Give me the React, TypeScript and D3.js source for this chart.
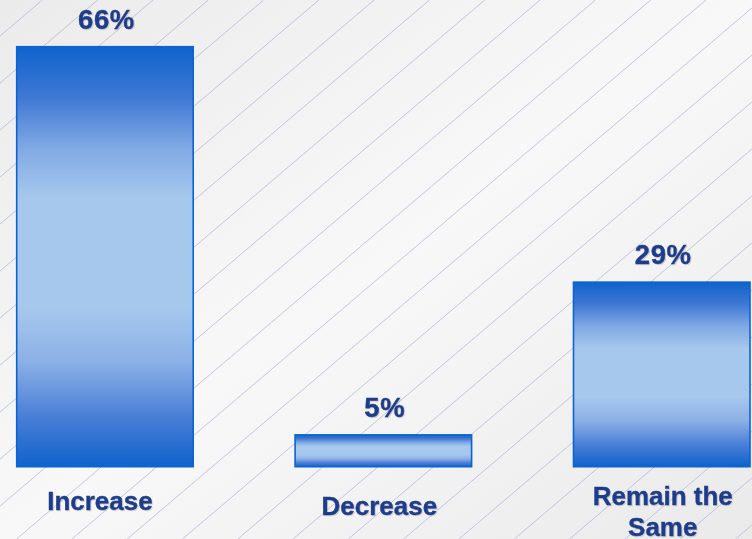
import React, { useEffect, useRef } from 'react';
import * as d3 from 'd3';

const categories = ['Increase', 'Decrease', 'Remain the Same'];
const values = [66, 5, 29];
const valueLabels = ['66%', '5%', '29%'];
// category labels are wrapped and placed by hand in the source slide
const categoryLines = [['Increase'], ['Decrease'], ['Remain the', 'Same']];
const categoryBaselines = [510, 515, 505];
const categoryShift = [-5, -4, 1];

const W = 752;
const H = 539;

const App: React.FC = () => {
  const svgRef = useRef<SVGSVGElement>(null);

  useEffect(() => {
    if (!svgRef.current) return;
    const svg = d3.select(svgRef.current);
    svg.selectAll('*').remove();

    const defs = svg.append('defs');

    const bg = defs.append('linearGradient')
      .attr('id', 'bg').attr('x1', 0).attr('y1', 0).attr('x2', 1).attr('y2', 1);
    bg.append('stop').attr('offset', '0%').attr('stop-color', '#ebebeb');
    bg.append('stop').attr('offset', '50%').attr('stop-color', '#f8f8f8');
    bg.append('stop').attr('offset', '100%').attr('stop-color', '#eaeaea');

    const barGrad = defs.append('linearGradient')
      .attr('id', 'bar').attr('x1', 0).attr('y1', 0).attr('x2', 0).attr('y2', 1);
    [
      ['0%', '#0f63cc'],
      ['12%', '#3f78d4'],
      ['24%', '#80a8e3'],
      ['36%', '#a6c8ed'],
      ['62%', '#a6c8ed'],
      ['75%', '#8cb0e6'],
      ['88%', '#4a7fd6'],
      ['100%', '#0f63cc'],
    ].forEach(([o, c]) => barGrad.append('stop').attr('offset', o).attr('stop-color', c));

    const shadow = defs.append('filter').attr('id', 'shadow')
      .attr('x', '-10%').attr('y', '-10%').attr('width', '120%').attr('height', '130%');
    shadow.append('feDropShadow')
      .attr('dx', 1).attr('dy', 1).attr('stdDeviation', 0.5)
      .attr('flood-color', '#8a8a8a').attr('flood-opacity', 0.35);

    // background
    svg.append('rect').attr('width', W).attr('height', H).attr('fill', 'url(#bg)');

    const slope = 0.85;
    const spacing = 55.3;
    const x0 = 208.3;
    svg.append('g')
      .selectAll('line')
      .data(d3.range(-6, 26))
      .join('line')
      .attr('x1', k => x0 + k * spacing)
      .attr('y1', 0)
      .attr('x2', k => x0 + k * spacing - H / slope)
      .attr('y2', H)
      .attr('stroke', '#b6b9db')
      .attr('stroke-width', 0.8);

    const x = d3.scaleBand<string>()
      .domain(categories)
      .range([16.7, 750])
      .paddingInner(0.366);

    const y = d3.scaleLinear()
      .domain([0, 66])
      .range([466.7, 46.7]);

    svg.append('g')
      .selectAll('rect')
      .data(categories)
      .join('rect')
      .attr('x', d => x(d)!)
      .attr('y', (d, i) => y(values[i]))
      .attr('width', x.bandwidth())
      .attr('height', (d, i) => y(0) - y(values[i]))
      .attr('fill', 'url(#bar)')
      .attr('stroke', '#0a64d2')
      .attr('stroke-width', 1.6);

    const font = "'Liberation Sans', Arial, sans-serif";
    const textColor = '#1f3d8c';

    svg.append('g')
      .selectAll('text')
      .data(categories)
      .join('text')
      .attr('x', d => x(d)! + x.bandwidth() / 2 + 1.5)
      .attr('y', (d, i) => y(values[i]) - 18)
      .attr('text-anchor', 'middle')
      .attr('font-family', font)
      .attr('font-weight', 'bold')
      .attr('font-size', 27.5)
      .attr('letter-spacing', 0.6)
      .attr('fill', textColor)
      .attr('stroke', textColor)
      .attr('stroke-width', 0.4)
      .attr('filter', 'url(#shadow)')
      .text((d, i) => valueLabels[i]);

    const cat = svg.append('g')
      .selectAll('text')
      .data(categories)
      .join('text')
      .attr('y', (d, i) => categoryBaselines[i])
      .attr('text-anchor', 'middle')
      .attr('font-family', font)
      .attr('font-weight', 'bold')
      .attr('font-size', 26)
      .attr('fill', textColor)
      .attr('stroke', textColor)
      .attr('stroke-width', 0.4)
      .attr('filter', 'url(#shadow)');

    cat.selectAll('tspan')
      .data((d, i) => categoryLines[i].map(t => ({ t, cx: x(d)! + x.bandwidth() / 2 + categoryShift[i] })))
      .join('tspan')
      .attr('x', d => d.cx)
      .attr('dy', (d, j) => (j === 0 ? 0 : 31))
      .text(d => d.t);
  }, []);

  return (
    <div style={{ position: 'fixed', left: 0, top: 0, width: W, height: H, overflow: 'hidden' }}>
      <svg ref={svgRef} width={W} height={H} style={{ display: 'block' }} />
    </div>
  );
};

export default App;
